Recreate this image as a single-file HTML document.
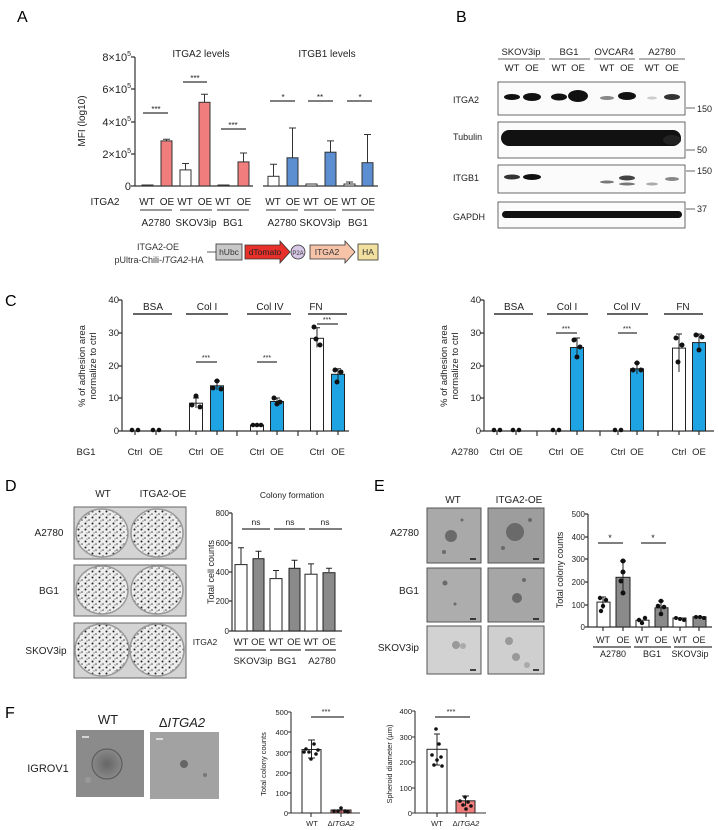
<!DOCTYPE html>
<html><head><meta charset="utf-8"><style>
html,body{margin:0;padding:0;background:#fff;}
svg{display:block;font-family:"Liberation Sans",Arial,sans-serif;}
</style></head><body>
<svg width="718" height="830" viewBox="0 0 718 830" xmlns="http://www.w3.org/2000/svg">
<defs>
<pattern id="dots" width="7" height="6" patternUnits="userSpaceOnUse">
<rect width="7" height="6" fill="#eeeeee"/>
<circle cx="1.5" cy="1.5" r="1" fill="#222"/><circle cx="5" cy="4" r="0.8" fill="#444"/><circle cx="3" cy="5" r="0.6" fill="#666"/>
</pattern>
<radialGradient id="sph" cx="50%" cy="50%" r="50%"><stop offset="0" stop-color="#666"/><stop offset="1" stop-color="#888"/></radialGradient>
</defs>
<g fill="#000" font-size="16">
<text x="17" y="22">A</text><text x="456" y="22">B</text><text x="5" y="306">C</text><text x="5" y="491">D</text><text x="374" y="491">E</text><text x="5" y="718">F</text>
</g>

<!-- Panel A -->
<g font-size="10" fill="#222">
<text x="201" y="57" text-anchor="middle">ITGA2 levels</text>
<text x="327" y="57" text-anchor="middle">ITGB1 levels</text>
<g text-anchor="end" font-size="11"><text x="131" y="61">8×10<tspan font-size="7" dy="-5">5</tspan></text><text x="131" y="93">6×10<tspan font-size="7" dy="-5">5</tspan></text><text x="131" y="126">4×10<tspan font-size="7" dy="-5">5</tspan></text><text x="131" y="158">2×10<tspan font-size="7" dy="-5">5</tspan></text><text x="131" y="190">0</text></g>
<text transform="translate(85,121) rotate(-90)" text-anchor="middle" font-size="10">MFI (log10)</text>
</g>
<g stroke="#333" stroke-width="1.2" fill="none">
<path d="M135 57V186M131 57H135M131 89H135M131 122H135M131 154H135M131 186H135"/>
<path d="M135 186H253M263 186H378"/>
</g>
<g stroke="#333" stroke-width="1">
<rect x="142" y="185" width="11" height="1" fill="#fff"/>
<rect x="161" y="140.9" width="11" height="45.1" fill="#f27d7d"/>
<rect x="180" y="169.9" width="11" height="16.1" fill="#fff"/>
<rect x="199" y="102.3" width="11" height="83.7" fill="#f27d7d"/>
<rect x="218" y="185" width="11" height="1" fill="#fff"/>
<rect x="238" y="161.9" width="11" height="24.1" fill="#f27d7d"/>
<rect x="268" y="176.3" width="11" height="9.7" fill="#fff"/>
<rect x="287" y="157.8" width="11" height="28.2" fill="#5b8fd2"/>
<rect x="306" y="184" width="11" height="2" fill="#fff"/>
<rect x="325" y="152.2" width="11" height="33.8" fill="#5b8fd2"/>
<rect x="344" y="184" width="11" height="2" fill="#fff"/>
<rect x="362" y="162.7" width="11" height="23.3" fill="#5b8fd2"/>
<path fill="none" d="M166.5 141V139.3M163 139.3H170 M185.5 170V163.5M182 163.5H189 M204.5 102V94.2M201 94.2H208 M243.5 162V153M240 153H247 M273.5 176V164.3M270 164.3H277 M292.5 158V128M289 128H296 M330.5 152V140.9M327 140.9H334 M349.5 184V182M346 182H353 M367.5 163V134.5M364 134.5H371"/>
<path d="M143 113H168M183 82H207M221 129H246M270 101H295M308 101H333M347 101H372" stroke-width="1.2"/>
<path d="M140 210H172M180 210H212M217 210H249M266 210H298M304 210H336M342 210H374"/>
</g>
<g font-size="8" text-anchor="middle" fill="#222">
<text x="156" y="112">***</text><text x="195" y="81">***</text><text x="233" y="128">***</text><text x="283" y="100">*</text><text x="320" y="100">**</text><text x="360" y="100">*</text>
</g>
<g font-size="10" text-anchor="middle" fill="#222">
<text x="105" y="205">ITGA2</text>
<text x="147" y="205">WT</text><text x="167" y="205">OE</text><text x="185" y="205">WT</text><text x="205" y="205">OE</text><text x="223" y="205">WT</text><text x="244" y="205">OE</text>
<text x="273" y="205">WT</text><text x="293" y="205">OE</text><text x="311" y="205">WT</text><text x="331" y="205">OE</text><text x="349" y="205">WT</text><text x="368" y="205">OE</text>
<text x="156" y="226">A2780</text><text x="196" y="226">SKOV3ip</text><text x="233" y="226">BG1</text><text x="282" y="226">A2780</text><text x="320" y="226">SKOV3ip</text><text x="358" y="226">BG1</text>
</g>
<!-- construct -->
<g font-size="9" fill="#333" text-anchor="middle">
<text x="158" y="250">ITGA2-OE</text><text x="159" y="263">pUltra-Chili-<tspan font-style="italic">ITGA2</tspan>-HA</text>
</g>
<g stroke="#333" stroke-width="0.8">
<path d="M207 252H216"/>
<rect x="216" y="244" width="26" height="16" fill="#c8c8c8"/>
<path d="M245 245H280V241L290 252L280 263V259H245Z" fill="#e8302a"/>
<circle cx="298" cy="252" r="7" fill="#d8c8e8"/>
<path d="M310 245H345V241L355 252L345 263V259H310Z" fill="#f7c3a8"/>
<rect x="358" y="244" width="20" height="16" fill="#f1e0a0"/>
</g>
<g font-size="8.5" fill="#333" text-anchor="middle">
<text x="229" y="255">hUbc</text><text x="265" y="255" fill="#222">dTomato</text><text x="298" y="255" font-size="6">P2A</text><text x="327" y="255">ITGA2</text><text x="368" y="255">HA</text>
</g>

<!-- Panel B -->
<g font-size="9.5" fill="#222" text-anchor="middle">
<text x="521" y="55">SKOV3ip</text><text x="569" y="55">BG1</text><text x="614" y="55">OVCAR4</text><text x="662" y="55">A2780</text>
<text x="512" y="71">WT</text><text x="532" y="71">OE</text><text x="559" y="71">WT</text><text x="578" y="71">OE</text><text x="607" y="71">WT</text><text x="627" y="71">OE</text><text x="652" y="71">WT</text><text x="672" y="71">OE</text>
</g>
<g stroke="#333" stroke-width="0.8"><path d="M498 59H545M549 59H590M594 59H635M639 59H685"/>
<path d="M686 108H695M686 150H695M686 171H695M686 209H695"/></g>
<g font-size="9" fill="#222">
<text x="453" y="103">ITGA2</text><text x="453" y="140">Tubulin</text><text x="453" y="181">ITGB1</text><text x="453" y="220">GAPDH</text>
<text x="697" y="112">150</text><text x="697" y="153">50</text><text x="697" y="174">150</text><text x="697" y="212">37</text>
</g>
<g stroke="#444" stroke-width="0.8" fill="#fbfbfb">
<rect x="498" y="82" width="187" height="33"/><rect x="498" y="122" width="187" height="36"/><rect x="498" y="165" width="187" height="28"/><rect x="498" y="202" width="187" height="26"/>
</g>
<g fill="#111">
<ellipse cx="512" cy="97" rx="8" ry="3"/><ellipse cx="532" cy="97" rx="9" ry="4"/><ellipse cx="559" cy="97" rx="8" ry="3.5"/><ellipse cx="578" cy="96" rx="10" ry="6"/><ellipse cx="607" cy="98" rx="7" ry="2" fill="#888"/><ellipse cx="627" cy="96" rx="9" ry="4"/><ellipse cx="652" cy="98" rx="5" ry="1.5" fill="#ccc"/><ellipse cx="672" cy="97" rx="8" ry="3" fill="#333"/>
<rect x="501" y="130" width="180" height="16" rx="8"/><ellipse cx="672" cy="140" rx="9" ry="5" fill="#222"/>
<ellipse cx="512" cy="177" rx="8" ry="2.5" fill="#333"/><ellipse cx="532" cy="177" rx="9" ry="3"/><ellipse cx="607" cy="182" rx="7" ry="1.5" fill="#777"/><ellipse cx="627" cy="178" rx="8" ry="2.5" fill="#444"/><ellipse cx="627" cy="184" rx="8" ry="1.5" fill="#777"/><ellipse cx="652" cy="184" rx="6" ry="1.5" fill="#aaa"/><ellipse cx="672" cy="179" rx="7" ry="2" fill="#888"/>
<rect x="502" y="211" width="180" height="7" rx="3.5"/>
</g>

<!-- Panel C left -->
<g font-size="10" fill="#222" text-anchor="middle">
<text x="153" y="310">BSA</text><text x="207" y="310">Col I</text><text x="270" y="310">Col  IV</text><text x="316" y="310">FN</text>
<text x="514" y="310">BSA</text><text x="567" y="310">Col I</text><text x="627" y="310">Col  IV</text><text x="683" y="310">FN</text>
</g>
<g font-size="9.5" fill="#222" text-anchor="end">
<text x="119" y="303">40</text><text x="119" y="336">30</text><text x="119" y="369">20</text><text x="119" y="401">10</text><text x="119" y="434">0</text>
<text x="481" y="303">40</text><text x="481" y="336">30</text><text x="481" y="369">20</text><text x="481" y="401">10</text><text x="481" y="434">0</text>
</g>
<g font-size="9.5" fill="#222" text-anchor="middle">
<text transform="translate(85,366) rotate(-90)">% of adhesion area</text><text transform="translate(96,366) rotate(-90)">normalize to ctrl</text>
<text transform="translate(447,366) rotate(-90)">% of adhesion area</text><text transform="translate(458,366) rotate(-90)">normalize to ctrl</text>
<text x="86" y="455">BG1</text><text x="135" y="455">Ctrl</text><text x="156" y="455">OE</text><text x="196" y="455">Ctrl</text><text x="217" y="455">OE</text><text x="257" y="455">Ctrl</text><text x="277" y="455">OE</text><text x="317" y="455">Ctrl</text><text x="338" y="455">OE</text>
<text x="465" y="455">A2780</text><text x="497" y="455">Ctrl</text><text x="516" y="455">OE</text><text x="556" y="455">Ctrl</text><text x="577" y="455">OE</text><text x="618" y="455">Ctrl</text><text x="637" y="455">OE</text><text x="679" y="455">Ctrl</text><text x="699" y="455">OE</text>
<g font-size="7"><text x="206" y="360">***</text><text x="267" y="360">***</text><text x="327" y="322">***</text><text x="566" y="331">***</text><text x="627" y="331">***</text></g>
</g>
<g stroke="#333" stroke-width="1.2" fill="none">
<path d="M122 300V431M118 300H122M118 333H122M118 366H122M118 398H122M118 431H122M122 431H349M176 431V436M237 431V436M298 431V436M135 431V435M156 431V435M196 431V435M217 431V435M257 431V435M277 431V435M317 431V435M338 431V435"/>
<path d="M484 300V431M480 300H484M480 333H484M480 366H484M480 398H484M480 431H484M484 431H714M537 431V436M600 431V436M658 431V436M497 431V435M516 431V435M556 431V435M577 431V435M618 431V435M637 431V435M679 431V435M699 431V435"/>
<path stroke-width="1.5" d="M133 314H172M186 314H228M247 314H291M308 314H347M494 314H533M547 314H588M607 314H648M664 314H703"/>
<path d="M196 362H217M257 362H277M317 324H338M556 333H577M618 333H637"/>
</g>
<g stroke="#222" stroke-width="1">
<rect x="189.5" y="403.2" width="13" height="27.8" fill="#fff"/><rect x="210.5" y="385.8" width="13" height="45.2" fill="#1ea4e3"/>
<rect x="250.5" y="425.1" width="13" height="5.9" fill="#fff"/><rect x="270.5" y="401.5" width="13" height="29.5" fill="#1ea4e3"/>
<rect x="310.5" y="338.3" width="13" height="92.7" fill="#fff"/><rect x="331.5" y="374.3" width="13" height="56.7" fill="#1ea4e3"/>
<rect x="570.5" y="347.5" width="13" height="83.5" fill="#1ea4e3"/><rect x="630.5" y="368.8" width="13" height="62.2" fill="#1ea4e3"/>
<rect x="672.5" y="348.1" width="13" height="82.9" fill="#fff"/><rect x="692.5" y="342.6" width="13" height="88.4" fill="#1ea4e3"/>
<path fill="none" d="M196 398V408M193 398H199M217 381V390M214 381H220M277 398V404M274 398H280M317 327.8V347.5M314 327.8H320M338 368.8V380M335 368.8H341M577 338V356M574 338H580M637 363V374M634 363H640M679 334V372M676 334H682M699 334V350M696 334H702"/>
</g>
<g fill="#111">
<circle cx="132" cy="430" r="2.3"/><circle cx="138" cy="430" r="2.3"/><circle cx="153" cy="430" r="2.3"/><circle cx="159" cy="430" r="2.3"/>
<circle cx="196" cy="396" r="2.5"/><circle cx="192" cy="405" r="2.5"/><circle cx="200" cy="407" r="2.5"/><circle cx="217" cy="381" r="2.5"/><circle cx="213" cy="388" r="2.5"/><circle cx="221" cy="389" r="2.5"/>
<circle cx="253" cy="425" r="2.3"/><circle cx="257" cy="425" r="2.3"/><circle cx="261" cy="425" r="2.3"/><circle cx="274" cy="398" r="2.5"/><circle cx="280" cy="402" r="2.5"/><circle cx="277" cy="404" r="2.5"/>
<circle cx="314" cy="327" r="2.5"/><circle cx="320" cy="345" r="2.5"/><circle cx="316" cy="339" r="2.5"/><circle cx="335" cy="370" r="2.5"/><circle cx="341" cy="372" r="2.5"/><circle cx="337" cy="382" r="2.5"/>
<circle cx="494" cy="430" r="2.3"/><circle cx="500" cy="430" r="2.3"/><circle cx="513" cy="430" r="2.3"/><circle cx="519" cy="430" r="2.3"/><circle cx="553" cy="430" r="2.3"/><circle cx="559" cy="430" r="2.3"/>
<circle cx="574" cy="340" r="2.5"/><circle cx="580" cy="347" r="2.5"/><circle cx="577" cy="357" r="2.5"/><circle cx="615" cy="430" r="2.3"/><circle cx="621" cy="430" r="2.3"/><circle cx="637" cy="363" r="2.5"/><circle cx="633" cy="370" r="2.5"/><circle cx="641" cy="370" r="2.5"/>
<circle cx="676" cy="338" r="2.5"/><circle cx="682" cy="345" r="2.5"/><circle cx="678" cy="362" r="2.5"/><circle cx="696" cy="335" r="2.5"/><circle cx="702" cy="337" r="2.5"/><circle cx="699" cy="350" r="2.5"/>
</g>

<!-- Panel D -->
<g font-size="10" fill="#222" text-anchor="middle">
<text x="103" y="497">WT</text><text x="163" y="497">ITGA2-OE</text>
<text x="49" y="536">A2780</text><text x="49" y="594">BG1</text><text x="46" y="654">SKOV3ip</text>
</g>
<g stroke="#666" stroke-width="1">
<rect x="74" y="507" width="112" height="52" fill="#d4d4d4"/><rect x="74" y="565" width="112" height="51" fill="#d4d4d4"/><rect x="74" y="623" width="112" height="55" fill="#d4d4d4"/>
</g>
<g fill="url(#dots)" stroke="#999" stroke-width="1.5">
<ellipse cx="102" cy="533" rx="26" ry="24"/><ellipse cx="157" cy="533" rx="26" ry="24"/>
<ellipse cx="102" cy="590" rx="26" ry="24"/><ellipse cx="157" cy="590" rx="26" ry="24"/>
<ellipse cx="102" cy="650" rx="27" ry="26"/><ellipse cx="157" cy="650" rx="27" ry="26"/>
</g>
<g font-size="8.5" fill="#222" text-anchor="middle">
<text x="292" y="498">Colony formation</text>
<text x="256" y="525">ns</text><text x="290" y="525">ns</text><text x="325" y="525">ns</text>
<text transform="translate(214,572) rotate(-90)" font-size="9">Total cell counts</text>
<text x="205" y="645">ITGA2</text>
<g font-size="9.5"><text x="241" y="645">WT</text><text x="258" y="645">OE</text><text x="276" y="645">WT</text><text x="294" y="645">OE</text><text x="311" y="645">WT</text><text x="329" y="645">OE</text>
<text x="253" y="664">SKOV3ip</text><text x="287" y="664">BG1</text><text x="322" y="664">A2780</text></g>
</g>
<g font-size="8" fill="#222" text-anchor="end"><text x="229" y="516">800</text><text x="229" y="546">600</text><text x="229" y="575">400</text><text x="229" y="604">200</text><text x="229" y="634">0</text></g>
<g stroke="#333" stroke-width="1.2" fill="none">
<path d="M232 513V631M229 513H232M229 543H232M229 572H232M229 601H232M229 631H232M232 631H342"/>
<path d="M242 529H270M274 529H305M309 529H342M235 650H266M270 650H301M305 650H336" stroke-width="1.3"/>
</g>
<g stroke="#222" stroke-width="1">
<rect x="235" y="564.6" width="12" height="66.4" fill="#fff"/><rect x="253" y="558.7" width="11" height="72.3" fill="#8a8a8a"/>
<rect x="270" y="578.6" width="12" height="52.4" fill="#fff"/><rect x="289" y="568.3" width="11" height="62.7" fill="#8a8a8a"/>
<rect x="305" y="574.2" width="12" height="56.8" fill="#fff"/><rect x="323" y="572.7" width="12" height="58.3" fill="#8a8a8a"/>
<path fill="none" d="M241 564V547.7M238 547.7H244M258.5 558V551.3M255.5 551.3H261.5M276 578V570.5M273 570.5H279M294.5 568V560.2M291.5 560.2H297.5M311 574V563.9M308 563.9H314M329 572V568.3M326 568.3H332"/>
</g>

<!-- Panel E -->
<g font-size="10" fill="#222" text-anchor="middle">
<text x="453" y="503">WT</text><text x="519" y="503">ITGA2-OE</text>
</g>
<g font-size="10" fill="#222" text-anchor="end"><text x="419" y="536">A2780</text><text x="419" y="594">BG1</text><text x="419" y="651">SKOV3ip</text></g>
<g stroke="#555" stroke-width="1">
<rect x="427" y="508" width="54" height="55" fill="#a9a9a9"/><rect x="488" y="508" width="56" height="55" fill="#9d9d9d"/>
<rect x="427" y="568" width="54" height="54" fill="#adadad"/><rect x="488" y="568" width="56" height="54" fill="#a6a6a6"/>
<rect x="427" y="626" width="54" height="48" fill="#d2d2d2"/><rect x="488" y="626" width="56" height="48" fill="#cfcfcf"/>
</g>
<g fill="#6a6a6a">
<circle cx="451" cy="536" r="6"/><circle cx="444" cy="552" r="2"/><circle cx="462" cy="520" r="1.5"/><circle cx="515" cy="532" r="9"/><circle cx="503" cy="548" r="2"/><circle cx="530" cy="520" r="2"/>
<circle cx="445" cy="583" r="2.5"/><circle cx="455" cy="604" r="1.5"/><circle cx="517" cy="598" r="5"/><circle cx="524" cy="580" r="2"/>
<circle cx="456" cy="645" r="4" fill="#999"/><circle cx="463" cy="646" r="3" fill="#aaa"/><circle cx="509" cy="641" r="4" fill="#999"/><circle cx="516" cy="657" r="4" fill="#999"/><circle cx="527" cy="665" r="3" fill="#aaa"/>
</g>
<g stroke="#111" stroke-width="1.5"><path d="M470 559H476M533 559H539M470 619H476M533 619H539M470 670H476M533 670H539"/></g>
<g font-size="8" fill="#222" text-anchor="end"><text x="585" y="517">500</text><text x="585" y="540">400</text><text x="585" y="562">300</text><text x="585" y="585">200</text><text x="585" y="608">100</text><text x="585" y="630">0</text></g>
<g font-size="9" fill="#222" text-anchor="middle">
<text transform="translate(563,570) rotate(-90)">Total colony counts</text>
<text x="603" y="643">WT</text><text x="623" y="643">OE</text><text x="642" y="643">WT</text><text x="661" y="643">OE</text><text x="680" y="643">WT</text><text x="699" y="643">OE</text>
<text x="613" y="657">A2780</text><text x="652" y="657">BG1</text><text x="690" y="657">SKOV3ip</text>
<text x="610" y="541">*</text><text x="653" y="541">*</text>
</g>
<g stroke="#333" stroke-width="1.2" fill="none">
<path d="M588 514V627M585 514H588M585 537H588M585 559H588M585 582H588M585 605H588M585 627H588M588 627H712M603 627V631M623 627V631M642 627V631M661 627V631M680 627V631M699 627V631"/>
<path d="M598 543H623M641 543H666M593 647H631M634 647H671M674 647H712"/>
</g>
<g stroke="#222" stroke-width="1">
<rect x="597" y="602.1" width="13" height="24.9" fill="#fff"/><rect x="616" y="577.3" width="14" height="49.7" fill="#8a8a8a"/>
<rect x="636" y="620.2" width="13" height="6.8" fill="#fff"/><rect x="655" y="607.8" width="13" height="19.2" fill="#8a8a8a"/>
<rect x="673" y="618" width="13" height="9" fill="#fff"/><rect x="693" y="616.8" width="13" height="10.2" fill="#8a8a8a"/>
<path fill="none" d="M603 597V609M600 597H606M623 561V594M620 561H626M661 601V614M658 601H664"/>
</g>
<g fill="#111">
<circle cx="600" cy="598" r="2.2"/><circle cx="606" cy="600" r="2.2"/><circle cx="603" cy="606" r="2.2"/><circle cx="601" cy="611" r="2.2"/>
<circle cx="623" cy="561" r="2.5"/><circle cx="623" cy="572" r="2.5"/><circle cx="621" cy="581" r="2.5"/><circle cx="623" cy="593" r="2.5"/>
<circle cx="639" cy="620" r="2.2"/><circle cx="645" cy="618" r="2.2"/><circle cx="642" cy="623" r="2.2"/>
<circle cx="661" cy="601" r="2.3"/><circle cx="658" cy="606" r="2.3"/><circle cx="664" cy="607" r="2.3"/><circle cx="661" cy="614" r="2.3"/>
<circle cx="676" cy="618" r="2"/><circle cx="680" cy="619" r="2"/><circle cx="684" cy="620" r="2"/><circle cx="696" cy="617" r="2"/><circle cx="700" cy="617" r="2"/><circle cx="704" cy="618" r="2"/>
</g>

<!-- Panel F -->
<g font-size="13" fill="#222" text-anchor="middle"><text x="108" y="724">WT</text><text x="182" y="727">Δ<tspan font-style="italic">ITGA2</tspan></text></g>
<text x="48" y="772" font-size="11" fill="#222" text-anchor="middle">IGROV1</text>
<rect x="76" y="730" width="68" height="67" fill="#8b8b8b"/><rect x="150" y="732" width="69" height="67" fill="#a2a2a2"/>
<circle cx="107" cy="764" r="15" fill="url(#sph)" stroke="#555"/><circle cx="88" cy="780" r="3" fill="#999"/>
<circle cx="184" cy="764" r="4" fill="#666"/><circle cx="205" cy="775" r="2" fill="#777"/>
<g stroke="#eee" stroke-width="1.5"><path d="M82 737H89M156 739H163"/></g>
<g font-size="7.5" fill="#222" text-anchor="end"><text x="288" y="715">500</text><text x="288" y="735">400</text><text x="288" y="756">300</text><text x="288" y="776">200</text><text x="288" y="796">100</text><text x="288" y="816">0</text>
<text x="412" y="714">400</text><text x="412" y="740">300</text><text x="412" y="765">200</text><text x="412" y="791">100</text><text x="412" y="816">0</text></g>
<g font-size="7.5" fill="#222" text-anchor="middle">
<text transform="translate(266,764) rotate(-90)">Total colony counts</text>
<text transform="translate(392,764) rotate(-90)">Spheroid diameter (µm)</text>
<text x="326" y="714">***</text><text x="451" y="714">***</text>
<text x="312" y="826">WT</text><text x="341" y="826">Δ<tspan font-style="italic">ITGA2</tspan></text>
<text x="437" y="826">WT</text><text x="466" y="826">Δ<tspan font-style="italic">ITGA2</tspan></text>
</g>
<g stroke="#333" stroke-width="1.1" fill="none">
<path d="M291 712V813M288 712H291M288 732H291M288 752H291M288 773H291M288 793H291M288 813H291M291 813H360M311 813V817M341 813V817"/>
<path d="M415 711V813M412 711H415M412 737H415M412 762H415M412 788H415M412 813H415M415 813H486M437 813V817M466 813V817"/>
<path d="M311 717H344M435 717H470" stroke-width="1.3"/>
</g>
<g stroke="#222" stroke-width="1">
<rect x="302" y="749.5" width="19" height="63.5" fill="#fff"/><rect x="331" y="810" width="20" height="3" fill="#f27d7d"/>
<rect x="427" y="749.3" width="20" height="63.7" fill="#fff"/><rect x="456" y="800.8" width="19" height="12.2" fill="#f27d7d"/>
<path fill="none" d="M311.5 740V758M308 740H315M308 758H315M437 734V765M434 734H440M434 765H440M465.5 796V806M462 796H469M341 807V812"/>
</g>
<g fill="#111">
<circle cx="314" cy="744" r="1.8"/><circle cx="306" cy="749" r="1.8"/><circle cx="318" cy="750" r="1.8"/><circle cx="309" cy="752" r="1.8"/><circle cx="316" cy="754" r="1.8"/><circle cx="311" cy="759" r="1.8"/><circle cx="304" cy="752" r="1.8"/>
<circle cx="334" cy="811" r="1.8"/><circle cx="338" cy="811" r="1.8"/><circle cx="341" cy="808" r="1.8"/><circle cx="345" cy="811" r="1.8"/><circle cx="348" cy="812" r="1.8"/>
<circle cx="436" cy="729" r="1.8"/><circle cx="439" cy="744" r="1.8"/><circle cx="432" cy="755" r="1.8"/><circle cx="441" cy="757" r="1.8"/><circle cx="437" cy="760" r="1.8"/><circle cx="442" cy="766" r="1.8"/><circle cx="434" cy="765" r="1.8"/>
<circle cx="465" cy="797" r="1.8"/><circle cx="460" cy="801" r="1.8"/><circle cx="468" cy="802" r="1.8"/><circle cx="463" cy="805" r="1.8"/><circle cx="471" cy="806" r="1.8"/><circle cx="466" cy="809" r="1.8"/>
</g>
</svg>
</body></html>
